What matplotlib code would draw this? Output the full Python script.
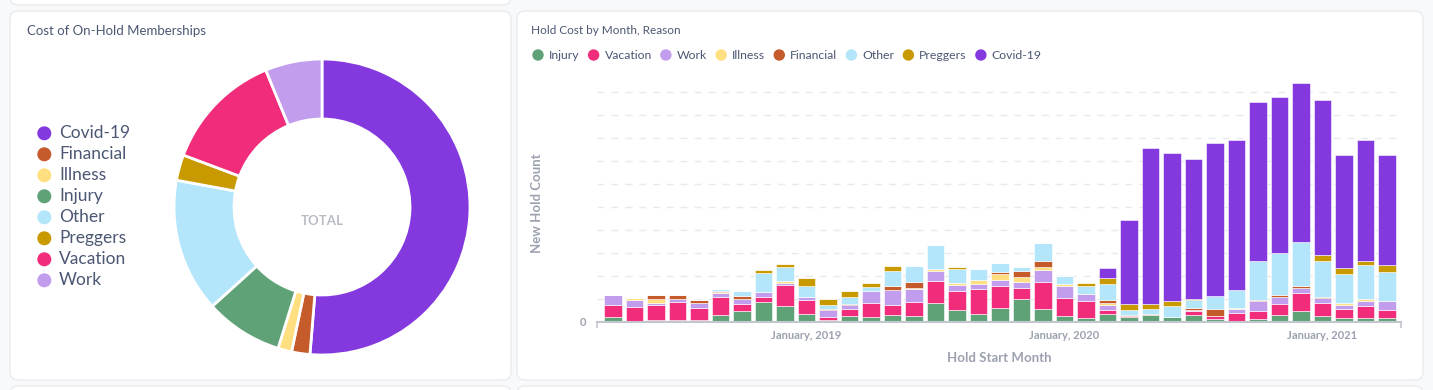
import matplotlib.pyplot as plt
from matplotlib.patches import FancyBboxPatch, Circle
from matplotlib.ticker import MultipleLocator, FuncFormatter
import pandas as pd

plt.rcParams["font.family"] = ["Lato", "DejaVu Sans"]

# ----------------------------------------------------
# Data
# ----------------------------------------------------

reasons = ["Injury", "Vacation", "Work", "Illness", "Financial", "Other", "Preggers", "Covid-19"]
colors = {
    "Injury": "#5fa277",
    "Vacation": "#f12d7b",
    "Work": "#c29ced",
    "Illness": "#ffdf80",
    "Financial": "#c55a2b",
    "Other": "#b3e6fa",
    "Preggers": "#c99a00",
    "Covid-19": "#8439de",
}

# donut: share of total hold cost (%)
pie_labels = ["Covid-19", "Financial", "Illness", "Injury", "Other", "Preggers", "Vacation", "Work"]
pie_share = [51.3, 2.0, 1.5, 8.5, 14.6, 2.8, 13.1, 6.2]

# monthly new holds, Apr 2018 .. Apr 2021
months = pd.date_range("2018-04-01", "2021-04-01", freq="MS")

injury = [4.7, 1, 2, 2, 2, 6.7, 10.7, 20, 16, 8, 2, 5.7, 4.7, 6.7, 5.7, 19, 12, 7.7, 13.7,
          22.7, 12.7, 5.7, 4.3, 7.7, 4.7, 7, 5.3, 6.7, 3, 1, 3.3, 7, 11, 6, 4, 4, 4]
vacation = [12, 14, 14.7, 18, 12.3, 18, 7, 5, 21, 13.7, 2.7, 7, 14.3, 10, 14, 22, 19, 25, 22,
            11.7, 27, 18, 16.3, 4.7, 1, 0, 0, 4.3, 2.7, 7.7, 7.3, 10.7, 17.7, 12.7, 8.7, 11.7, 8]
work = [10.3, 7, 2, 2.7, 4.7, 4, 5, 5, 2, 3, 7.7, 4.3, 11.7, 15.3, 13, 10, 6, 5.7, 6,
        6, 12, 12, 7.7, 5, 0, 0, 0, 1, 0, 4, 10, 7.3, 5.3, 5, 4.3, 5.3, 9]
illness = [0, 2.3, 4.3, 0, 0, 1, 0, 0, 2, 0, 0, 0, 0, 0, 1.3, 2, 2, 3.3, 6.7,
           4.3, 3, 2, 0, 1.3, 0, 0, 0, 0, 0, 1.3, 0, 0, 0, 0, 2, 2, 0]
financial = [0, 0, 4, 4.3, 3, 1.7, 3, 0, 0, 0, 1, 1, 0, 4, 6, 0, 0, 0, 2,
             6, 6, 0, 0, 3.7, 1.3, 1, 0, 1.7, 7.3, 0, 1, 2, 2, 1, 0, 0, 0]
other = [0, 0, 0, 0, 0, 1.3, 5.3, 19, 14, 11.3, 3.7, 7, 4.3, 15, 16, 24, 14, 11, 8.3,
         4, 18, 8, 7.3, 16, 5, 5, 10.7, 8, 13, 18, 39.3, 42, 44, 36.3, 29, 34, 29]
preggers = [0, 0, 0, 0, 0, 0, 0, 3, 3, 8, 6, 6, 4, 5, 0, 0, 2, 0, 0,
            0, 0, 0, 3, 5.3, 6, 5, 5, 1, 0, 0, 0, 0, 0, 6, 6, 4, 7]
covid = [0, 0, 0, 0, 0, 0, 0, 0, 0, 0, 0, 0, 0, 0, 0, 0, 0, 0, 0,
         0, 0, 0, 0, 10, 84, 156, 148, 140.3, 153, 150, 159, 156, 159, 155, 113, 121, 110]

series = {
    "Injury": injury,
    "Vacation": vacation,
    "Work": work,
    "Illness": illness,
    "Financial": financial,
    "Other": other,
    "Preggers": preggers,
    "Covid-19": covid,
}

# ----------------------------------------------------
# Figure / cards
# ----------------------------------------------------

W, H = 1433, 390
TEXT = "#4c5773"
MUTED = "#9ca1b0"

fig = plt.figure(figsize=(W / 100, H / 100), dpi=100)
fig.patch.set_facecolor("#f8f9fb")

bg = fig.add_axes([0, 0, 1, 1])
bg.set_xlim(0, W)
bg.set_ylim(H, 0)
bg.axis("off")

cards = [(10, 11, 501, 369), (517, 11, 906, 369), (10, -60, 501, 65), (10, 386, 501, 60), (517, 386, 906, 60)]
for x, y, w, h in cards:
    bg.add_patch(FancyBboxPatch((x, y), w, h, boxstyle="round,pad=0,rounding_size=8",
                                facecolor="white", edgecolor="#e9ebef", linewidth=1))

bg.text(27, 31, "Cost of On-Hold Memberships", fontsize=9.5, color=TEXT, va="center")
bg.text(531, 31, "Hold Cost by Month, Reason", fontsize=8.5, color=TEXT, va="center")

# left legend
for i, name in enumerate(pie_labels):
    y = 133.3 + 21 * i
    bg.add_patch(Circle((44.3, y), 6.3, color=colors[name]))
    bg.text(59, y, name, fontsize=12.5, color=TEXT, va="center")

# right legend, laid out left to right from measured text widths
renderer = fig.canvas.get_renderer()
x = 538
for name in reasons:
    bg.add_patch(Circle((x, 55), 5, color=colors[name]))
    t = bg.text(x + 11, 55.5, name, fontsize=8.8, color=TEXT, va="center")
    tw = t.get_window_extent(renderer).width
    x = x + 11 + tw + 14

bg.text(322, 221, "TOTAL", fontsize=9.5, color="#b9bcc4", weight="bold", ha="center", va="center")
bg.text(537, 203, "New Hold Count", rotation=90, fontsize=9.5, color=MUTED, weight="bold",
        ha="center", va="center")
bg.text(999, 358, "Hold Start Month", fontsize=9.5, color=MUTED, weight="bold",
        ha="center", va="center")

# ----------------------------------------------------
# Donut
# ----------------------------------------------------

ax_p = fig.add_axes([(322 - 150) / W, (H - 207 - 150) / H, 300 / W, 300 / H])
ax_p.pie(
    pie_share,
    colors=[colors[n] for n in pie_labels],
    startangle=90,
    counterclock=False,
    radius=148 / 150,
    wedgeprops=dict(width=60 / 150, edgecolor="white", linewidth=2),
)
ax_p.set_xlim(-1, 1)
ax_p.set_ylim(-1, 1)
ax_p.axis("off")

# ----------------------------------------------------
# Stacked bars
# ----------------------------------------------------

ax = fig.add_axes([597 / W, (H - 322) / H, (1400.7 - 597) / W, 250 / H])
ax.set_zorder(2)
ax.patch.set_alpha(0)

xs = list(range(len(months)))
bottom = [0.0] * len(months)
for name in reasons:
    vals = series[name]
    ax.bar(xs, vals, bottom=bottom, width=0.82, color=colors[name],
           edgecolor="white", linewidth=0.4, zorder=3)
    bottom = [b + v for b, v in zip(bottom, vals)]

xlo, xhi = -0.74, 36.64
ax.set_xlim(xlo, xhi)
ax.set_ylim(0, 250)

jan = [i for i, m in enumerate(months) if m.month == 1]
ax.set_xticks(jan)
ax.set_xticklabels([f"January, {months[i].year}" for i in jan])
ax.set_xticks([xlo, xhi], minor=True)
ax.tick_params(axis="x", which="major", length=0, pad=6, labelsize=8, labelcolor=MUTED)
ax.tick_params(axis="x", which="minor", length=4.5, width=1.2, color="#c3c6ce")
for lab in ax.get_xticklabels():
    lab.set_fontweight("bold")

ax.yaxis.set_major_locator(MultipleLocator(23))
ax.yaxis.set_major_formatter(FuncFormatter(lambda v, p: "0" if v == 0 else ""))
ax.tick_params(axis="y", length=0, pad=8, labelsize=8, labelcolor=MUTED)
for lab in ax.get_yticklabels():
    lab.set_fontweight("bold")

ax.grid(axis="y", color="#e8eaee", linewidth=1, linestyle=(0, (5, 5)), zorder=0)
ax.grid(axis="x", visible=False)

for side in ["top", "right", "left"]:
    ax.spines[side].set_visible(False)
ax.spines["bottom"].set_color("#c3c6ce")
ax.spines["bottom"].set_linewidth(1.5)
ax.spines["bottom"].set_zorder(4)

plt.savefig("out.png", dpi=100)
